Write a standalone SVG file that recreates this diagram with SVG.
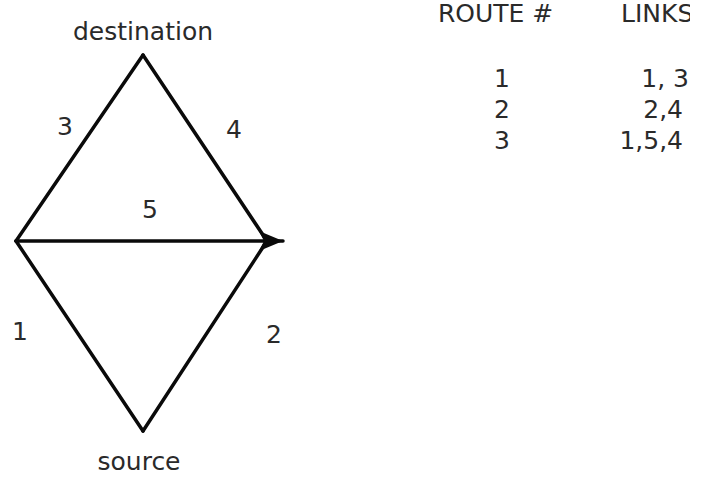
<svg xmlns="http://www.w3.org/2000/svg" width="720" height="481" viewBox="0 0 720 481">
<defs>
<style>
text{font-family:"DejaVu Sans","Liberation Sans",sans-serif;font-size:25px;fill:#2a2a2a}
.edge{stroke:#0a0a0a;stroke-width:3.5;fill:none;stroke-linecap:round}
</style>
<marker id="ah" markerUnits="userSpaceOnUse" markerWidth="26" markerHeight="22" refX="24" refY="10" orient="auto">
<path d="M0,0 L24,10 L0,20 L5,10 Z" fill="#0a0a0a"/>
</marker>
<clipPath id="cut"><rect x="0" y="0" width="690" height="481"/></clipPath>
</defs>
<rect width="720" height="481" fill="#fff"/>
<g id="connectors">
<line class="edge" x1="16" y1="241" x2="143" y2="55"/>
<line class="edge" x1="143" y1="55" x2="267" y2="241"/>
<line class="edge" x1="16" y1="241" x2="143" y2="431"/>
<line class="edge" x1="143" y1="431" x2="267" y2="241"/>
<line class="edge" x1="16" y1="241" x2="283" y2="241" marker-end="url(#ah)"/>
<text x="57" y="135">3</text>
<text x="226" y="138">4</text>
<text x="142" y="218">5</text>
<text x="12" y="340">1</text>
<text x="266" y="343">2</text>
</g>
<g id="destination"><text x="143" y="40" text-anchor="middle">destination</text></g>
<g id="source"><text x="139" y="470" text-anchor="middle">source</text></g>
<g id="table" clip-path="url(#cut)">
<text x="438" y="22">ROUTE #</text>
<text x="621" y="22">LINKS</text>
<text x="502" y="87" text-anchor="middle">1</text>
<text x="502" y="118" text-anchor="middle">2</text>
<text x="502" y="149" text-anchor="middle">3</text>
<text x="689" y="87" text-anchor="end">1, 3</text>
<text x="683" y="118" text-anchor="end">2,4</text>
<text x="683" y="149" text-anchor="end">1,5,4</text>
</g>
</svg>
